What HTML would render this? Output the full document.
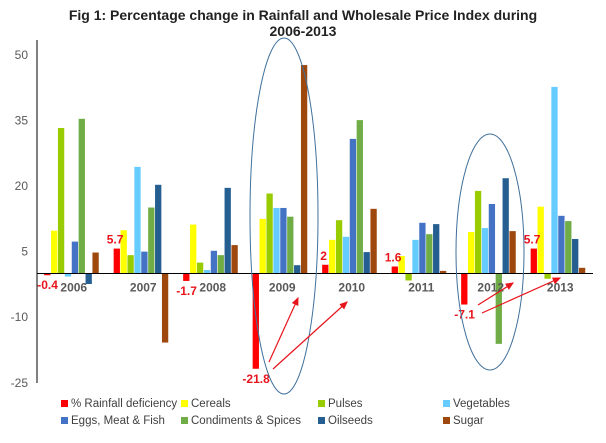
<!DOCTYPE html>
<html><head><meta charset="utf-8"><style>
body{margin:0;background:#fff;}
svg{font-family:"Liberation Sans",sans-serif;}
</style></head><body>
<svg id="c" width="606" height="438" viewBox="0 0 606 438">
<text x="303" y="20" text-anchor="middle" font-size="14" font-weight="bold" fill="#222">Fig 1: Percentage change in Rainfall and Wholesale Price Index during</text>
<text x="303" y="36" text-anchor="middle" font-size="14" font-weight="bold" fill="#222">2006-2013</text>
<g id="plot"></g>
</svg>
<script>
const years=['2006','2007','2008','2009','2010','2011','2012','2013'];
const seriesNames=['% Rainfall deficiency','Cereals','Pulses','Vegetables','Eggs, Meat & Fish','Condiments & Spices','Oilseeds','Sugar'];
const rainfall=[-0.4,5.7,-1.7,-21.8,2,1.6,-7.1,5.7];
const cereals=[9.8,9.9,11.2,12.5,7.7,4.0,9.5,15.3];
const pulses=[33.3,4.2,2.5,18.3,12.2,-1.6,18.9,-1.2];
const vegetables=[-0.7,24.4,0.8,15,8.4,7.7,10.4,42.7];
const eggs=[7.3,5.0,5.2,15,30.8,11.6,15.9,13.2];
const condiments=[35.4,15.1,4.2,13,35.1,9.0,-16.1,12];
const oilseeds=[-2.4,20.3,19.6,1.9,4.9,11.3,21.8,7.9];
const sugar=[4.8,-15.8,6.5,47.7,14.8,0.6,9.7,1.3];
const rainLabels=['-0.4','5.7','-1.7','-21.8','2','1.6','-7.1','5.7'];
const ticks=[50,35,20,5,-10,-25];
const colors=['#ff0000','#ffff00','#99cc00','#66ccff','#4472c4','#70ad47','#255e91','#9e480e'];
const series=[rainfall,cereals,pulses,vegetables,eggs,condiments,oilseeds,sugar];
const NS='http://www.w3.org/2000/svg';
const g=document.getElementById('plot');
const X0=37,X1=593,Y0=273.5,PPU=4.37;
const y=v=>Y0-v*PPU;
const gw=(X1-X0)/years.length,bw=6.9;
const gx=i=>X0+i*gw+(gw-bw*8)/2;
function mk(t,a){const e=document.createElementNS(NS,t);for(const k in a)e.setAttribute(k,a[k]);g.appendChild(e);return e;}
ticks.forEach(t=>{const e=mk('text',{x:28,y:y(t)+4,'text-anchor':'end','font-size':12,fill:'#595959'});e.textContent=t;

});
series.forEach((s,si)=>{s.forEach((v,i)=>{const x=gx(i)+si*bw;const r=mk('rect',{x:x,y:Math.min(y(v),Y0),width:bw-0.6,height:Math.abs(y(v)-Y0),fill:colors[si]});

});});
const ax=mk('line',{x1:X0,y1:40,x2:X0,y2:383,stroke:'#000','stroke-width':1});


const xx=mk('line',{x1:X0,y1:Y0,x2:X1,y2:Y0,stroke:'#000','stroke-width':1});


years.forEach((yr,i)=>{const e=mk('text',{x:X0+i*gw+gw/2+2,y:Y0+18,'text-anchor':'middle','font-size':12,'font-weight':'bold',fill:'#595959'});e.textContent=yr;

});
rainfall.forEach((v,i)=>{const cx=gx(i)+bw/2;const e=mk('text',{x:v<0?cx:cx-2,y:v<0?y(v)+14:y(v)-5,'text-anchor':'middle','font-size':12,'font-weight':'bold',fill:'#e8141c'});e.textContent=rainLabels[i];

});
[[284,216,34,178],[490,252,34,118]].forEach(a=>{const e=mk('ellipse',{cx:a[0],cy:a[1],rx:a[2],ry:a[3],fill:'none',stroke:'#41719c','stroke-width':1});

});
const defs=mk('defs',{});defs.innerHTML='<marker id="ah" markerWidth="8" markerHeight="8" refX="6" refY="3" orient="auto"><path d="M0,0 L7,3 L0,6 z" fill="#e8141c"/></marker>';
[[269,362,298,298],[273,369,347,302],[478,305,513,283],[482,313,560,278]].forEach(a=>{const e=mk('line',{x1:a[0],y1:a[1],x2:a[2],y2:a[3],stroke:'#e8141c','stroke-width':1.2,'marker-end':'url(#ah)'});

});
const lx=[61,181,318,443];
seriesNames.forEach((n,i)=>{const c=i%4,rw=Math.floor(i/4);const yy=404+rw*17;
const m=mk('rect',{x:lx[c],y:yy-4,width:7,height:7,fill:colors[i]});


const t=mk('text',{x:lx[c]+10,y:yy+3,'font-size':11.5,fill:'#404040'});t.textContent=n;

});
</script>
</body></html>
